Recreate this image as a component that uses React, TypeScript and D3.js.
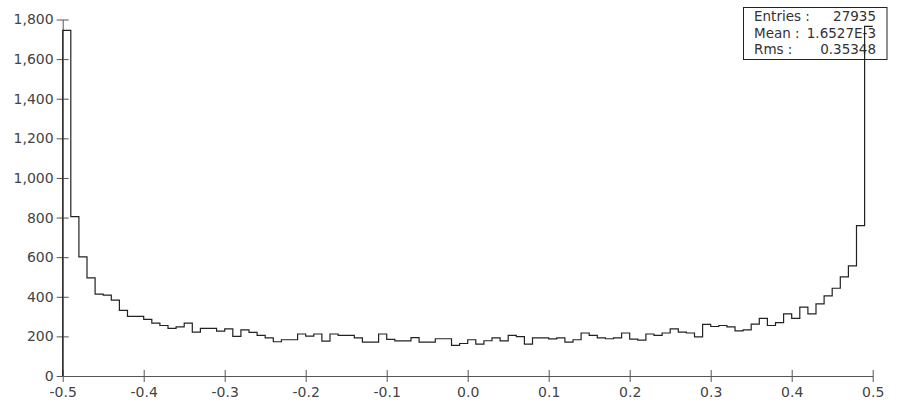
import React, { useEffect, useRef } from "react";
import * as d3 from "d3";

// histogram of 100 bins over [-0.5, 0.5)
const binStart = -0.5;
const binWidth = 0.01;
const binCounts = [
  1745, 805, 601, 495, 413, 408, 383, 331, 301, 301,
  286, 267, 255, 240, 248, 267, 222, 240, 240, 227,
  238, 200, 233, 220, 205, 193, 173, 183, 183, 212,
  201, 212, 176, 212, 205, 205, 193, 171, 171, 212,
  185, 177, 177, 194, 171, 171, 188, 188, 155, 164,
  183, 161, 178, 193, 177, 205, 199, 161, 193, 193,
  187, 193, 171, 183, 217, 205, 193, 188, 193, 217,
  186, 181, 212, 205, 217, 238, 222, 217, 198, 261,
  250, 255, 248, 228, 233, 262, 291, 255, 269, 314,
  291, 348, 314, 364, 405, 443, 500, 556, 759, 1765,
];
const xTicks = [-0.5, -0.4, -0.3, -0.2, -0.1, 0.0, 0.1, 0.2, 0.3, 0.4, 0.5];
const yTicks = [0, 200, 400, 600, 800, 1000, 1200, 1400, 1600, 1800];
const statNames = ["Entries :", "Mean :", "Rms :"];
const statValues = ["27935", "1.6527E-3", "0.35348"];

const width = 897;
const height = 413;
const margin = { top: 19.5, right: 24.3, bottom: 37, left: 62.7 };

const App = () => {
  const svgRef = useRef<SVGSVGElement>(null);

  useEffect(() => {
    document.body.style.margin = "0";
    const svg = d3.select(svgRef.current);
    svg.selectAll("*").remove();

    const innerWidth = width - margin.left - margin.right;
    const innerHeight = height - margin.top - margin.bottom;

    const x = d3.scaleLinear().domain([-0.5, 0.5]).range([0, innerWidth]);
    const y = d3.scaleLinear().domain([0, 1800]).range([innerHeight, 0]);

    const fmtX = (d: number) => d.toFixed(1);
    const fmtY = (d: number) => d3.format(",")(d);

    const g = svg
      .append("g")
      .attr("transform", `translate(${margin.left},${margin.top})`);

    // Axes (ticks cross the axis line)
    const xAxis = g
      .append("g")
      .attr("transform", `translate(0,${innerHeight})`)
      .call(
        d3
          .axisBottom(x)
          .tickValues(xTicks)
          .tickSizeInner(6)
          .tickSizeOuter(0)
          .tickFormat(fmtX as any)
      );
    xAxis.selectAll(".tick line").attr("y1", -6);
    xAxis.selectAll("text").attr("dy", "0.95em").attr("y", 8);

    const yAxis = g.append("g").call(
      d3
        .axisLeft(y)
        .tickValues(yTicks)
        .tickSizeInner(6)
        .tickSizeOuter(0)
        .tickFormat(fmtY as any)
    );
    yAxis.selectAll(".tick line").attr("x1", 6);
    yAxis.selectAll("text").attr("x", -9);

    [xAxis, yAxis].forEach((ax) => {
      ax.select(".domain").attr("stroke", "#555");
      ax.selectAll(".tick line").attr("stroke", "#555");
      ax.selectAll("text")
        .style("font-size", "14px")
        .style("font-family", "DejaVu Sans")
        .attr("fill", "#444");
    });

    // Stats box
    const boxX = 743.5 - margin.left;
    const boxY = 7.5 - margin.top;
    g.append("rect")
      .attr("x", boxX)
      .attr("y", boxY)
      .attr("width", 143.5)
      .attr("height", 52)
      .attr("fill", "none")
      .attr("stroke", "#222")
      .attr("stroke-width", 1);
    statNames.forEach((name, i) => {
      g.append("text")
        .attr("x", boxX + 10.5)
        .attr("y", boxY + 13.5 + i * 16.5)
        .style("font-size", "13.5px")
        .style("font-family", "DejaVu Sans")
        .attr("fill", "#333")
        .text(name);
      g.append("text")
        .attr("x", boxX + 132.5)
        .attr("y", boxY + 13.5 + i * 16.5)
        .attr("text-anchor", "end")
        .style("font-size", "13.5px")
        .style("font-family", "DejaVu Sans")
        .attr("fill", "#333")
        .text(statValues[i]);
    });

    // Histogram outline (left edge from zero, ends at top of last bin)
    const pts: [number, number][] = [[x(binStart), y(0)]];
    binCounts.forEach((c, i) => {
      const x0 = binStart + i * binWidth;
      pts.push([x(x0), y(c)]);
      pts.push([x(x0 + binWidth), y(c)]);
    });
    const line = d3.line();
    g.append("path")
      .attr("d", line(pts))
      .attr("fill", "none")
      .attr("stroke", "#222")
      .attr("stroke-width", 1.2);
  }, []);

  return <svg ref={svgRef} width={width} height={height} style={{ display: "block" }}></svg>;
};

export default App;
